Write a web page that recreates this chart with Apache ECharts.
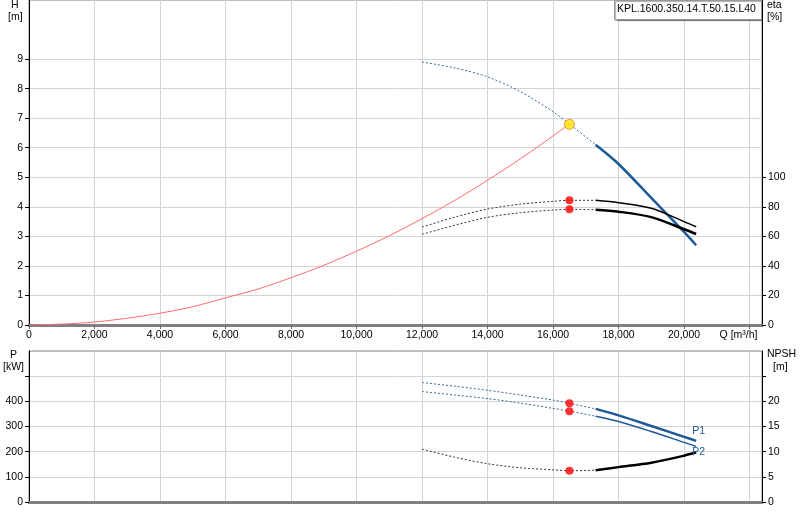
<!DOCTYPE html>
<html>
<head>
<meta charset="utf-8">
<script src="https://cdn.jsdelivr.net/npm/echarts@6/dist/echarts.min.js"></script>
<style>
  html, body { margin: 0; padding: 0; background: #fff; }
  #chart { width: 800px; height: 520px; }
</style>
</head>
<body>
<div id="chart"></div>
<script>
// flow ticks (m3/h)
const qTicks = [0, 2000, 4000, 6000, 8000, 10000, 12000, 14000, 16000, 18000, 20000, 22000];
const hTicks = [0, 1, 2, 3, 4, 5, 6, 7, 8, 9];
const etaTicks = [0, 20, 40, 60, 80, 100];
const pTicks = [0, 100, 200, 300, 400, 500];
const npshTicks = [0, 5, 10, 15, 20, 25];

// system curve
const sysQ = [0, 1000, 2000, 3000, 4000, 5000, 6000, 7000, 8000, 9000, 10000, 11000, 12000, 13000, 14000, 15000, 16000, 16500];
const sysH = [0, 0.03, 0.1, 0.23, 0.4, 0.62, 0.92, 1.22, 1.6, 2.02, 2.5, 3.02, 3.6, 4.22, 4.9, 5.62, 6.4, 6.8];

// pump curves: dashed part (outside range) and solid part
const qDash = [12000, 13000, 14000, 15000, 16000, 16500, 17300];
const qSolid = [17300, 18000, 19000, 20000, 20370];

const headDash = [8.9, 8.7, 8.4, 7.9, 7.22, 6.8, 6.1];
const headSolid = [6.1, 5.45, 4.3, 3.15, 2.7];
const eta1Dash = [66.3, 73, 78.5, 81.8, 83.7, 84.4, 84.4];
const eta1Solid = [84.4, 82.8, 79, 70, 66.5];
const eta2Dash = [61.4, 67.5, 72.9, 76, 77.8, 78.3, 78];
const eta2Solid = [78, 76.7, 73, 64.8, 61.6];
const p1Dash = [474.7, 460, 444, 425, 405, 392, 370];
const p1Solid = [370, 344, 302, 259, 243];
const p2Dash = [439, 425, 411, 393, 372, 361, 341];
const p2Solid = [341, 320, 280, 237, 221];
const npshDash = [10.5, 8.9, 7.6, 6.8, 6.4, 6.2, 6.33];
const npshSolid = [6.33, 6.93, 7.8, 9.2, 9.87];

// duty point
const dutyQ = 16500;
const dutyH = 6.79;
const dutyEta = [84.4, 78.3];
const dutyP = [392, 361];
const dutyNpsh = 6.2;

const FONT = 'Liberation Sans, Arial, sans-serif';
const BLUE = '#1c5996';

function zip(xs, ys) {
  return xs.map((x, i) => [x, ys[i]]);
}

function dashed(name, data, color, xi, yi) {
  return {
    name: name, type: 'line', xAxisIndex: xi, yAxisIndex: yi,
    data: data, smooth: 0.3, showSymbol: false, silent: true,
    lineStyle: { color: color, width: 1, type: [2, 2] }
  };
}

function solid(name, data, color, width, xi, yi, extra) {
  return Object.assign({
    name: name, type: 'line', xAxisIndex: xi, yAxisIndex: yi,
    data: data, smooth: 0.3, showSymbol: false, silent: true,
    lineStyle: { color: color, width: width }
  }, extra || {});
}

function dot(data, xi, yi) {
  return {
    type: 'scatter', xAxisIndex: xi, yAxisIndex: yi, data: data,
    symbolSize: 8, itemStyle: { color: '#ff0000' }, z: 5, silent: true
  };
}

function xAxisCfg(grid, labels) {
  return {
    type: 'value', gridIndex: grid, min: 0, max: 22380, interval: 2000,
    axisLine: { show: true, lineStyle: { color: '#808080', width: 3 } },
    axisTick: { show: labels, length: 4, customValues: qTicks, lineStyle: { color: '#666' } },
    axisLabel: {
      show: labels, customValues: qTicks, margin: 5,
      fontFamily: FONT, fontSize: 10.5, color: '#000',
      formatter: v => v === 22000 ? '{q|Q [m³/h]}' : v.toLocaleString('en-US'),
      rich: { q: { fontFamily: FONT, fontSize: 10.5, color: '#000', padding: [0, 22, 0, 0] } }
    },
    splitLine: { show: true, lineStyle: { color: '#d4d4d4', width: 1 } }
  };
}

function yAxisCfg(grid, pos, max, interval, labels, ticks, split) {
  return {
    type: 'value', gridIndex: grid, position: pos, min: 0, max: max, interval: interval,
    axisLine: { show: true, lineStyle: { color: '#000', width: 1 } },
    axisTick: { show: true, length: 4, customValues: ticks, lineStyle: { color: '#000' } },
    axisLabel: {
      customValues: labels, margin: 6,
      fontFamily: FONT, fontSize: 10.5, color: '#000'
    },
    splitLine: { show: split, lineStyle: { color: '#d4d4d4', width: 1 } }
  };
}

const chart = echarts.init(document.getElementById('chart'), null, { renderer: 'canvas' });

const option = {
  animation: false,
  backgroundColor: '#fff',
  grid: [
    { left: 29, right: 38, top: 0, height: 325, show: true, borderColor: '#808080', borderWidth: 1 },
    { left: 29, right: 38, top: 351, height: 151, show: true, borderColor: '#808080', borderWidth: 1 }
  ],
  xAxis: [xAxisCfg(0, true), xAxisCfg(1, false)],
  yAxis: [
    yAxisCfg(0, 'left', 11, 1, hTicks, hTicks, true),
    yAxisCfg(0, 'right', 220, 20, etaTicks, etaTicks, false),
    yAxisCfg(1, 'left', 600, 100, [0, 100, 200, 300, 400], pTicks, true),
    yAxisCfg(1, 'right', 30, 5, [0, 5, 10, 15, 20], npshTicks, false)
  ],
  graphic: [
    { type: 'text', left: 11, top: 0, style: { text: 'H', font: '10.5px ' + FONT, fill: '#000' } },
    { type: 'text', left: 8, top: 12, style: { text: '[m]', font: '10.5px ' + FONT, fill: '#000' } },
    { type: 'text', left: 767, top: 0, style: { text: 'eta', font: '10.5px ' + FONT, fill: '#000' } },
    { type: 'text', left: 767, top: 12, style: { text: '[%]', font: '10.5px ' + FONT, fill: '#000' } },
    { type: 'text', left: 10, top: 350, style: { text: 'P', font: '10.5px ' + FONT, fill: '#000' } },
    { type: 'text', left: 3, top: 362, style: { text: '[kW]', font: '10.5px ' + FONT, fill: '#000' } },
    { type: 'text', left: 767, top: 349, style: { text: 'NPSH', font: '10.5px ' + FONT, fill: '#000' } },
    { type: 'text', left: 773, top: 362, style: { text: '[m]', font: '10.5px ' + FONT, fill: '#000' } },
    {
      type: 'rect', left: 614, top: 0, z: 10,
      shape: { width: 147, height: 19 },
      style: { fill: '#fff', stroke: '#999', lineWidth: 1, shadowColor: 'rgba(0,0,0,0.35)', shadowOffsetX: 1, shadowOffsetY: 1, shadowBlur: 1 }
    },
    {
      type: 'text', left: 617, top: 4, z: 11,
      style: { text: 'KPL.1600.350.14.T.50.15.L40', font: '10.5px ' + FONT, fill: '#000' }
    }
  ],
  series: [
    solid('System', zip(sysQ, sysH), '#ff6a6a', 1, 0, 0),
    dashed('H dash', zip(qDash, headDash), '#3a6697', 0, 0),
    solid('H', zip(qSolid, headSolid), BLUE, 2.5, 0, 0),
    dashed('eta1 dash', zip(qDash, eta1Dash), '#333', 0, 1),
    solid('eta1', zip(qSolid, eta1Solid), '#000', 1.5, 0, 1),
    dashed('eta2 dash', zip(qDash, eta2Dash), '#333', 0, 1),
    solid('eta2', zip(qSolid, eta2Solid), '#000', 2.5, 0, 1),
    dot([[dutyQ, dutyEta[0]], [dutyQ, dutyEta[1]]], 0, 1),
    {
      type: 'scatter', xAxisIndex: 0, yAxisIndex: 0, data: [[dutyQ, dutyH]],
      symbolSize: 10, z: 6, silent: true,
      itemStyle: { color: '#ffe600', borderColor: '#f07a2a', borderWidth: 1 }
    },
    dashed('P1 dash', zip(qDash, p1Dash), '#3a6697', 1, 2),
    solid('P1', zip(qSolid, p1Solid), BLUE, 2.5, 1, 2, {
      endLabel: { show: true, formatter: 'P1', offset: [-12, -10], color: BLUE, fontFamily: FONT, fontSize: 10.5 }
    }),
    dashed('P2 dash', zip(qDash, p2Dash), '#3a6697', 1, 2),
    solid('P2', zip(qSolid, p2Solid), BLUE, 1.5, 1, 2, {
      endLabel: { show: true, formatter: 'P2', offset: [-12, 6], color: BLUE, fontFamily: FONT, fontSize: 10.5 }
    }),
    dashed('NPSH dash', zip(qDash, npshDash), '#333', 1, 3),
    solid('NPSH', zip(qSolid, npshSolid), '#000', 2.5, 1, 3),
    dot([[dutyQ, dutyP[0]], [dutyQ, dutyP[1]]], 1, 2),
    dot([[dutyQ, dutyNpsh]], 1, 3)
  ]
};

chart.setOption(option);
</script>
</body>
</html>
